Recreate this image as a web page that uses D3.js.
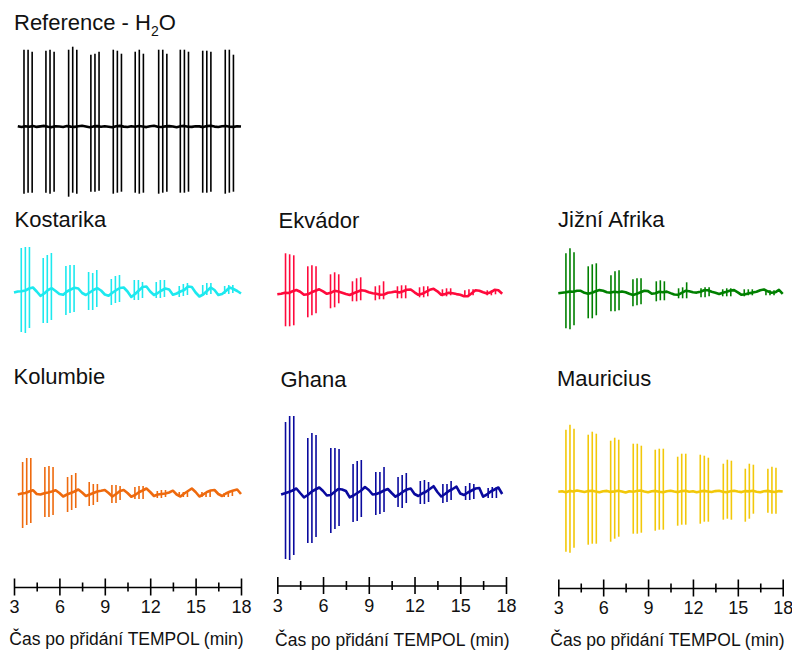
<!DOCTYPE html>
<html>
<head>
<meta charset="utf-8">
<script src="https://cdn.jsdelivr.net/npm/d3@7.9.0/dist/d3.min.js"></script>
<style>
  body { margin: 0; background: #fff; }
  svg { display: block; font-family: "Liberation Sans", Arial, sans-serif; }
</style>
</head>
<body>
<svg id="chart" width="792" height="650"></svg>
<script>
// ---------- data ----------
// baseline samples every 0.25 min from 3 min, in a.u. (up = positive)
const tStart = 3, tStep = 0.25;
// the three lines of each triplet, offset in minutes from the group time
const lineOffsets = [-0.27, 0, 0.27];
const majorTicks = [3, 6, 9, 12, 15, 18];
const minorTicks = [4.5, 7.5, 10.5, 13.5, 16.5];
const axisTitle = 'Čas po přidání TEMPOL (min)';

const baseH2O = [null, 0.5, -0.3, 0.4, 0.0, 0.6, -0.2, 0.3, 0.8, 0.0, -0.4, 0.5, 0.2, -0.3, 0.6, 0.1,
  -0.2, 0.5, 0.9, 0.2, -0.5, 0.3, 0.6, -0.1, 0.4, 0.0, -0.6, 0.5, 0.8, 0.1, -0.3, 0.4, 0.0, 0.7, 0.2,
  -0.4, 0.5, 0.9, 0.0, -0.3, 0.3, 0.6, 0.2, -0.5, 0.4, 0.8, 0.0, -0.2, 0.5, 0.3, -0.4, 0.6, 1.0, 0.1,
  -0.3, 0.4, 0.7, 0.0, -0.2, 0.5, 0.2];
const baseKostarika = [-0.5, 0.5, 0.8, 1.5, 3.5, 4.5, 0.5, -3.8, -1.5, 2.0, 3.8, 1.0, -2.0, -2.8, 0.5,
  2.5, 4.2, 3.5, -1.0, -3.0, -0.5, 2.0, 3.8, 1.5, -2.5, -3.8, -0.8, 1.8, 4.0, 4.5, 0.5, -5.0, -2.0, 1.5,
  5.0, 5.5, 0.5, -3.0, -1.0, 1.5, 3.5, 2.5, -2.8, -1.5, 0.5, 2.0, 5.5, 5.0, -0.5, -4.5, -2.5, 1.0, 4.5,
  2.0, -3.0, -2.0, 1.0, 4.5, 3.0, 1.0, -1.5];
const baseEkvador = [-1.0, -0.5, 0.5, 0.3, 2.0, 3.3, 1.5, -1.5, -1.0, 1.0, 2.5, 4.0, 2.0, -0.5, 0.5,
  2.5, 1.8, 0.5, -0.8, -1.7, 0.0, 1.5, 3.0, 2.5, 1.0, 0.0, -0.5, -1.5, -1.2, 0.5, 1.0, 1.8, 0.8, 2.0,
  3.5, 3.8, 1.0, -1.5, -0.5, 1.5, 3.5, 4.5, 2.0, -1.5, -0.8, 0.5, 0.0, -0.8, -1.5, -3.0, -2.8, 0.0, 3.0,
  2.5, 1.0, -0.2, 1.0, 3.5, 3.0, -0.5, null];
const baseJizniAfrika = [0.0, 0.5, 1.0, 1.7, 1.5, 2.5, 2.5, 0.5, -0.5, 0.5, 2.0, 3.2, 2.5, 1.0, 0.7,
  1.5, 1.0, 1.8, 1.0, -0.5, -1.7, -0.5, 1.0, 2.5, 2.2, -0.5, 0.0, 1.5, 1.0, 1.7, 0.2, -1.2, -1.5, 0.5,
  2.5, 2.0, 1.0, 0.7, 1.5, 3.0, 3.0, 1.5, 0.5, -0.7, 0.5, 1.5, 2.8, 3.2, 1.0, -1.5, -1.0, 0.0, 0.7, 1.5,
  3.0, 3.8, 2.0, 0.5, 1.0, 3.5, -0.5];
const baseKolumbie = [null, 0.5, 1.5, 2.0, 3.5, 4.8, 1.0, 0.5, 1.8, 2.5, 3.5, 4.8, 2.0, -1.5, 0.5, 2.0,
  3.5, 5.5, 2.5, -1.0, 0.5, 2.0, 3.5, 4.2, 5.0, 2.0, -1.5, 1.0, 4.0, 5.0, 2.0, -1.7, 0.0, 2.8, 4.5, 6.5,
  3.0, -1.0, 0.5, 1.0, 1.5, 2.5, 4.3, 0.5, -1.5, 1.5, 4.0, 6.5, 3.0, -1.5, 0.5, 3.0, 4.5, 5.0, 1.0, -1.0,
  1.5, 3.2, 4.5, 5.5, 1.0];
const baseGhana = [null, 0.5, 1.7, 3.0, 4.5, 6.5, 2.0, -2.3, 0.0, 3.3, 5.5, 7.5, 4.0, -0.5, 0.0, 3.0,
  6.0, 5.5, 4.0, -2.3, -0.5, 2.0, 4.5, 8.0, 5.0, 0.5, 1.0, 2.5, 4.5, 6.0, 2.0, -1.7, 0.5, 3.3, 5.5, 6.5,
  1.0, -1.0, 1.5, 3.3, 6.0, 8.8, 3.0, -1.5, 1.0, 4.0, 6.0, 8.3, 1.5, 0.0, 2.5, 4.5, 6.5, 7.0, -1.7, 0.5,
  3.5, 5.5, 7.5, 1.0, null];
const baseMauricius = [0.0, 0.5, -0.5, 0.8, 0.2, 1.2, 0.5, -0.3, 0.6, 1.0, 0.2, -0.5, 0.5, 0.8, -0.2,
  0.3, 1.0, 0.2, -0.8, 0.5, 0.0, 0.7, 1.2, 0.3, -0.5, 0.4, 0.8, 0.0, -0.6, 0.5, 1.0, 0.2, -0.4, 0.6, 0.9,
  0.0, 0.5, -0.5, 0.3, 0.8, 0.2, -0.3, 0.6, 1.0, 0.0, -0.5, 0.5, 0.9, 0.2, -0.4, 0.6, 0.3, 1.0, 0.0,
  -0.5, 0.4, 0.8, 0.1, -0.3, 0.6, 0.2];

// spike groups: [group time (min), [up heights], [down depths]]
const spikesH2O = [
  [3.93, [77, 77, 75], [67, 66, 66]], [5.38, [76, 77, 75], [66, 67, 65]],
  [6.88, [77, 80, 77], [70, 66, 67]], [8.35, [72, 73, 75], [65, 65, 64]],
  [9.83, [77, 76, 73], [67, 66, 65]], [11.28, [75, 77, 73], [66, 67, 66]],
  [12.83, [77, 77, 73], [67, 66, 65]], [14.26, [77, 77, 75], [66, 66, 65]],
  [15.74, [76, 76, 75], [66, 66, 65]], [17.23, [77, 77, 72], [67, 66, 65]]
];
const spikesKostarika = [
  [3.75, [44, 45, 45], [40, 41, 36]], [5.20, [34, 37, 39], [31, 31, 28]],
  [6.70, [26, 27, 27], [23, 21, 20]], [8.20, [20, 19, 22], [18, 18, 15]],
  [9.70, [13, 16, 17], [13, 11, 10]], [11.22, [12, 12, 10], [8, 8, 6]],
  [12.67, [10, 12, 12], [6, 6, 5]], [14.19, [6, 8, 9], [5, 4, 3]],
  [15.74, [7, 9, 9], [3, 3, 2]], [17.19, [6, 7, 7], [2, 2, 1]]
];
const spikesEkvador = [
  [3.81, [40, 39, 38], [33, 33, 32]], [5.27, [27, 28, 27], [24, 22, 20]],
  [6.76, [19, 21, 19], [15, 14, 10]], [8.20, [12, 15, 16], [8, 8, 7]],
  [9.70, [7, 8, 12], [7, 6, 6]], [11.15, [7, 8, 8], [5, 5, 5]],
  [12.60, [6, 7, 7], [4, 4, 3]], [14.10, [4, 5, 5], [3, 3, 2]],
  [15.57, [3, 4, 4], [2, 2, 2]], [17.04, [3, 3, 3], [2, 2, 1]]
];
const spikesJizniAfrika = [
  [3.78, [40, 45, 41], [35, 36, 32]], [5.27, [27, 29, 30], [25, 25, 22]],
  [6.79, [18, 22, 23], [18, 18, 17]], [8.26, [14, 15, 15], [13, 12, 11]],
  [9.82, [12, 13, 12], [8, 7, 7]], [11.31, [5, 6, 11], [5, 5, 5]],
  [12.81, [5, 6, 6], [4, 4, 3]], [14.26, [4, 5, 5], [3, 3, 3]],
  [15.70, [4, 4, 4], [3, 2, 2]], [17.15, [3, 3, 3], [2, 2, 2]]
];
const spikesKolumbie = [
  [3.84, [33, 37, 37], [33, 30, 28]], [5.31, [28, 29, 28], [22, 22, 20]],
  [6.81, [18, 20, 22], [17, 15, 13]], [8.24, [13, 11, 11], [11, 10, 7]],
  [9.74, [10, 10, 9], [8, 8, 5]], [11.26, [8, 9, 9], [4, 4, 4]],
  [12.74, [4, 5, 5], [3, 3, 2]], [14.19, [3, 3, 3], [2, 2, 2]],
  [15.69, [3, 3, 3], [2, 2, 2]], [17.16, [2, 3, 3], [2, 2, 1]]
];
const spikesGhana = [
  [3.81, [73, 79, 79], [64, 65, 60]], [5.27, [57, 62, 60], [48, 48, 42]],
  [6.78, [47, 47, 46], [38, 34, 31]], [8.24, [31, 34, 35], [27, 26, 22]],
  [9.73, [23, 23, 28], [20, 19, 17]], [11.19, [18, 20, 22], [12, 13, 8]],
  [12.65, [14, 15, 13], [9, 9, 7]], [14.13, [11, 11, 14], [8, 7, 5]],
  [15.62, [9, 12, 11], [5, 5, 4]], [17.10, [7, 8, 8], [3, 3, 3]]
];
const spikesMauricius = [
  [3.78, [62, 67, 63], [60, 61, 56]], [5.27, [57, 60, 58], [53, 52, 52]],
  [6.77, [51, 54, 52], [50, 47, 45]], [8.28, [48, 48, 46], [42, 42, 41]],
  [9.75, [42, 43, 43], [39, 38, 38]], [11.25, [35, 38, 38], [34, 33, 33]],
  [12.76, [37, 36, 34], [32, 30, 30]], [14.30, [28, 32, 31], [28, 27, 28]],
  [15.77, [23, 28, 27], [30, 27, 22]], [17.28, [23, 25, 24], [21, 22, 22]]
];

// ---------- layout ----------
const W = 792, H = 650;
const colRanges = [[14, 241], [277.3, 506], [558.3, 782.7]];
const axisY = [587, 585.5, 588];
const axisTitleX = [126.5, 392.3, 667.5];
const axisTitleY = [644.5, 645.5, 645.5];

const panels = [
  { name: 'Reference - H2O', color: '#000000', base: baseH2O, spikes: spikesH2O, col: 0, y0: 126.7, tx: 14, ty: 30 },
  { name: 'Kostarika', color: '#1de9ef', base: baseKostarika, spikes: spikesKostarika, col: 0, y0: 292, tx: 14.5, ty: 226.7 },
  { name: 'Ekvádor', color: '#ff0a3c', base: baseEkvador, spikes: spikesEkvador, col: 1, y0: 293.3, tx: 278.5, ty: 228.3 },
  { name: 'Jižní Afrika', color: '#008000', base: baseJizniAfrika, spikes: spikesJizniAfrika, col: 2, y0: 293.3, tx: 558, ty: 227.3 },
  { name: 'Kolumbie', color: '#ee6a0e', base: baseKolumbie, spikes: spikesKolumbie, col: 0, y0: 495, tx: 13.5, ty: 384 },
  { name: 'Ghana', color: '#0a0a9e', base: baseGhana, spikes: spikesGhana, col: 1, y0: 495, tx: 280.5, ty: 386.7 },
  { name: 'Mauricius', color: '#f2c80a', base: baseMauricius, spikes: spikesMauricius, col: 2, y0: 491.7, tx: 557, ty: 386 }
];

const svg = d3.select('#chart').attr('viewBox', `0 0 ${W} ${H}`);
const xScales = colRanges.map((r) => d3.scaleLinear().domain([3, 18]).range(r));

// ---------- traces ----------
for (const p of panels) {
  const x = xScales[p.col];
  const y = d3.scaleLinear().domain([-100, 100]).range([p.y0 + 100, p.y0 - 100]);
  const g = svg.append('g');

  const pts = p.base.map((v, i) => [tStart + i * tStep, v]);
  g.append('path')
    .datum(pts)
    .attr('fill', 'none')
    .attr('stroke', p.color)
    .attr('stroke-width', 2.6)
    .attr('stroke-linejoin', 'round')
    .attr('d', d3.line().defined((d) => d[1] != null).x((d) => x(d[0])).y((d) => y(d[1])));

  const lines = p.spikes.flatMap(([t, up, dn]) =>
    lineOffsets.map((o, k) => ({ t: t + o, up: up[k], dn: dn[k] })));
  g.selectAll('line')
    .data(lines)
    .join('line')
    .attr('x1', (d) => x(d.t))
    .attr('x2', (d) => x(d.t))
    .attr('y1', (d) => y(d.up))
    .attr('y2', (d) => y(-d.dn))
    .attr('stroke', p.color)
    .attr('stroke-width', 1.6);

  // title (H2O gets a subscript)
  const title = svg.append('text')
    .attr('x', p.tx).attr('y', p.ty)
    .attr('font-size', 22).attr('fill', '#111');
  if (p.name === 'Reference - H2O') {
    title.append('tspan').text('Reference - H');
    title.append('tspan').attr('font-size', 14).attr('dy', 6).text('2');
    title.append('tspan').attr('dy', -6).text('O');
  } else {
    title.text(p.name);
  }
}

// ---------- time axes ----------
colRanges.forEach((r, c) => {
  const x = xScales[c];
  const ax = svg.append('g')
    .attr('transform', `translate(0,${axisY[c]})`)
    .call(d3.axisBottom(x).tickValues(majorTicks).tickSize(0).tickSizeOuter(0).tickFormat(d3.format('d')));
  ax.select('.domain').attr('stroke', '#000').attr('stroke-width', 1.6);
  ax.selectAll('.tick line').attr('y1', -8.5).attr('y2', 8.5).attr('stroke', '#000').attr('stroke-width', 1.6);
  ax.selectAll('.tick text')
    .attr('y', 26).attr('dy', 0)
    .attr('font-size', 18).attr('fill', '#111')
    .attr('font-family', '"Liberation Sans", Arial, sans-serif');

  const minor = svg.append('g')
    .attr('transform', `translate(0,${axisY[c]})`)
    .call(d3.axisBottom(x).tickValues(minorTicks).tickSize(0).tickSizeOuter(0).tickFormat(''));
  minor.select('.domain').remove();
  minor.selectAll('.tick line').attr('y1', -4.5).attr('y2', 4.5).attr('stroke', '#000').attr('stroke-width', 1.6);

  svg.append('text')
    .attr('x', axisTitleX[c])
    .attr('y', axisTitleY[c])
    .attr('text-anchor', 'middle')
    .attr('font-size', 17.5)
    .attr('fill', '#111')
    .text(axisTitle);
});
</script>
</body>
</html>
